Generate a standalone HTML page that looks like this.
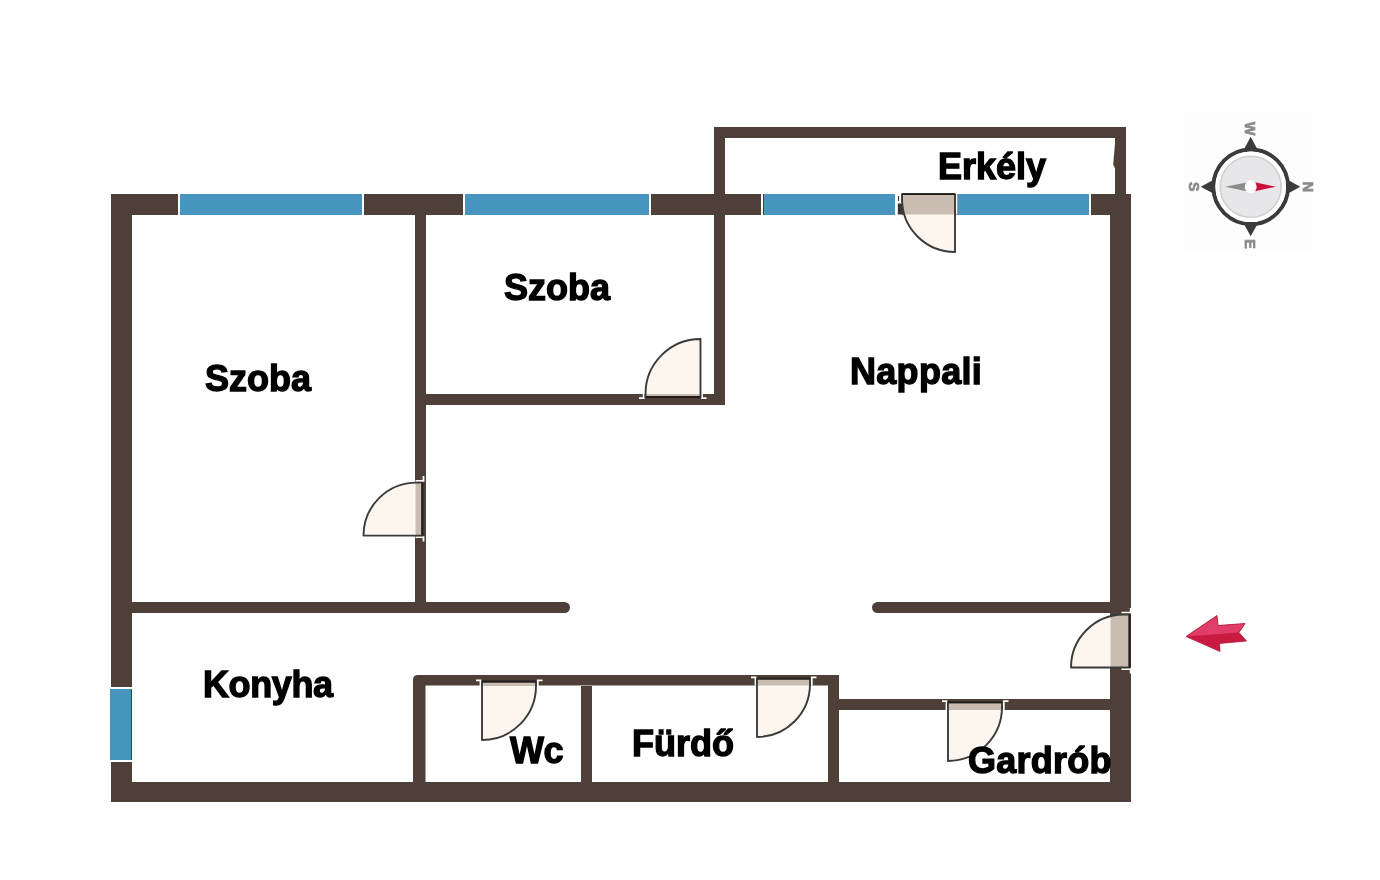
<!DOCTYPE html>
<html><head><meta charset="utf-8">
<style>
html,body{margin:0;padding:0;background:#fff;width:1380px;height:880px;overflow:hidden}
svg{position:absolute;left:0;top:0;will-change:transform}
.t{position:absolute;font:bold 36px "Liberation Sans",sans-serif;color:#000;-webkit-text-stroke:1.3px #000;white-space:nowrap;line-height:normal;will-change:transform}
</style></head><body>
<svg width="1380" height="880" viewBox="0 0 1380 880">
<rect x="1184" y="112" width="128" height="138" fill="#fdfdfd"/>
<g fill="#4e4038">
<rect x="111" y="194" width="1020" height="21"/>
<rect x="111" y="194" width="21" height="608"/>
<rect x="111" y="782" width="1020" height="20"/>
<rect x="1110" y="194" width="21" height="608"/>
<rect x="714" y="127" width="412" height="11"/>
<rect x="1115" y="127" width="11" height="67"/>
<path d="M1115.5 138 L1113.2 164.5 L1115.5 169.5 Z"/>
<rect x="714" y="127" width="11" height="278"/>
<rect x="415" y="394" width="310" height="11"/>
<rect x="415" y="215" width="11" height="398"/>
<path d="M132 602 H564.5 A5.5 5.5 0 0 1 564.5 613 H132 Z"/>
<path d="M1110 602 H877.5 A5.5 5.5 0 0 0 877.5 613 H1110 Z"/>
<path d="M413 782 V680 Q413 675 418 675 H839 V685.6 H425.5 V782 Z"/>
<rect x="581" y="686" width="11" height="96"/>
<rect x="828" y="675" width="11" height="107"/>
<rect x="839" y="699" width="271" height="11"/>
</g>
<g fill="#4794bf">
<rect x="180" y="194" width="182" height="21"/>
<rect x="465" y="194" width="184" height="21"/>
<rect x="764" y="194" width="131" height="21"/>
<rect x="957.5" y="194" width="131.5" height="21"/>
<rect x="110" y="689" width="21" height="71"/>
</g>
<g fill="#fff">
<rect x="178" y="193" width="2" height="23"/>
<rect x="362" y="193" width="2" height="23"/>
<rect x="463" y="193" width="2" height="23"/>
<rect x="649" y="193" width="2" height="23"/>
<rect x="761" y="193" width="2" height="23"/>
<rect x="1089" y="193" width="2" height="23"/>
<rect x="109" y="687" width="23" height="2"/>
<rect x="109" y="760" width="23" height="2"/>
</g>
<rect x="895" y="194" width="7" height="21" fill="#fff"/><path d="M897.8 203.5 H902.5 V214.5 H897.8 Z" fill="#3a3430"/><path d="M898.5 196 V201" stroke="#3a3430" stroke-width="1.2"/>
<g transform="matrix(1 0 0 1 482 686)">
<clipPath id="dc0"><path d="M0 -4.5 H54 V0 A54 54 0 0 1 0 54 Z"/></clipPath>
<path d="M0 -4.5 H54 V0 A54 54 0 0 1 0 54 Z" fill="#fdf6ef"/>
<rect x="-1" y="-4.5" width="56" height="4.5" fill="#c9bdb2" clip-path="url(#dc0)"/>
<path d="M-6 -5.7 H-1.5 V0" stroke="#fff" stroke-width="1.8" fill="none"/>
<path d="M60.5 -5.7 H55.8 V0" stroke="#fff" stroke-width="1.8" fill="none"/>
<path d="M0 -4.5 H54 V0 A54 54 0 0 1 0 54 Z" fill="none" stroke="#3b3b3b" stroke-width="1.9" stroke-linejoin="round"/>
<path d="M0 -4.5 H54" stroke="#221d1a" stroke-width="1.8"/>
</g>
<g transform="matrix(1 0 0 1 757 684)">
<clipPath id="dc1"><path d="M0 -5.4 H53 V0 A53 53 0 0 1 0 53 Z"/></clipPath>
<path d="M0 -5.4 H53 V0 A53 53 0 0 1 0 53 Z" fill="#fdf6ef"/>
<rect x="-1" y="-5.4" width="55" height="6.9" fill="#c9bdb2" clip-path="url(#dc1)"/>
<path d="M-6 -6.6000000000000005 H-1.5 V1.5" stroke="#fff" stroke-width="1.8" fill="none"/>
<path d="M59.5 -6.6000000000000005 H54.8 V1.5" stroke="#fff" stroke-width="1.8" fill="none"/>
<path d="M0 -5.4 H53 V0 A53 53 0 0 1 0 53 Z" fill="none" stroke="#3b3b3b" stroke-width="1.9" stroke-linejoin="round"/>
<path d="M0 -5.4 H53" stroke="#221d1a" stroke-width="1.8"/>
</g>
<g transform="matrix(1 0 0 1 948 707)">
<clipPath id="dc2"><path d="M0 -4.7 H54 V0 A54 54 0 0 1 0 54 Z"/></clipPath>
<path d="M0 -4.7 H54 V0 A54 54 0 0 1 0 54 Z" fill="#fdf6ef"/>
<rect x="-1" y="-4.7" width="56" height="7.7" fill="#c9bdb2" clip-path="url(#dc2)"/>
<path d="M-6 -5.9 H-1.5 V3" stroke="#fff" stroke-width="1.8" fill="none"/>
<path d="M60.5 -5.9 H55.8 V3" stroke="#fff" stroke-width="1.8" fill="none"/>
<path d="M0 -4.7 H54 V0 A54 54 0 0 1 0 54 Z" fill="none" stroke="#3b3b3b" stroke-width="1.9" stroke-linejoin="round"/>
<path d="M0 -4.7 H54" stroke="#221d1a" stroke-width="1.8"/>
</g>
<g transform="matrix(-1 0 0 -1 700.5 394)">
<clipPath id="dc3"><path d="M0 -3 H55 V0 A55 55 0 0 1 0 55 Z"/></clipPath>
<path d="M0 -3 H55 V0 A55 55 0 0 1 0 55 Z" fill="#fdf6ef"/>
<rect x="-1" y="-3" width="57" height="3" fill="#c9bdb2" clip-path="url(#dc3)"/>
<path d="M-6 -4.2 H-1.5 V0" stroke="#fff" stroke-width="1.8" fill="none"/>
<path d="M61.5 -4.2 H56.8 V0" stroke="#fff" stroke-width="1.8" fill="none"/>
<path d="M0 -3 H55 V0 A55 55 0 0 1 0 55 Z" fill="none" stroke="#3b3b3b" stroke-width="1.9" stroke-linejoin="round"/>
<path d="M0 -3 H55" stroke="#221d1a" stroke-width="1.8"/>
</g>
<g transform="matrix(0 -1 -1 0 416.5 535.6)">
<clipPath id="dc4"><path d="M0 -5.8 H53 V0 A53 53 0 0 1 0 53 Z"/></clipPath>
<path d="M0 -5.8 H53 V0 A53 53 0 0 1 0 53 Z" fill="#fdf6ef"/>
<rect x="-1" y="-5.8" width="55" height="6.8" fill="#c9bdb2" clip-path="url(#dc4)"/>
<path d="M-6 -7.0 H-1.5 V1" stroke="#fff" stroke-width="1.8" fill="none"/>
<path d="M59.5 -7.0 H54.8 V1" stroke="#fff" stroke-width="1.8" fill="none"/>
<path d="M0 -5.8 H53 V0 A53 53 0 0 1 0 53 Z" fill="none" stroke="#3b3b3b" stroke-width="1.9" stroke-linejoin="round"/>
<path d="M0 -5.8 H53" stroke="#221d1a" stroke-width="1.8"/>
</g>
<g transform="matrix(0 -1 -1 0 1124 667.5)">
<clipPath id="dc5"><path d="M0 -5.5 H53 V0 A53 53 0 0 1 0 53 Z"/></clipPath>
<path d="M0 -5.5 H53 V0 A53 53 0 0 1 0 53 Z" fill="#fdf6ef"/>
<rect x="-1" y="-5.5" width="55" height="19.0" fill="#c9bdb2" clip-path="url(#dc5)"/>
<path d="M-6 -6.7 H-1.5 V2.5" stroke="#fff" stroke-width="1.8" fill="none"/>
<path d="M59.5 -6.7 H54.8 V2.5" stroke="#fff" stroke-width="1.8" fill="none"/>
<path d="M0 -5.5 H53 V0 A53 53 0 0 1 0 53 Z" fill="none" stroke="#3b3b3b" stroke-width="1.9" stroke-linejoin="round"/>
<path d="M0 -5.5 H53" stroke="#221d1a" stroke-width="1.8"/>
</g>
<g transform="matrix(-1 0 0 1 955 199)">
<clipPath id="dc6"><path d="M0 -4.9 H53 V0 A53 53 0 0 1 0 53 Z"/></clipPath>
<path d="M0 -4.9 H53 V0 A53 53 0 0 1 0 53 Z" fill="#fdf6ef"/>
<rect x="-1" y="-4.9" width="55" height="20.4" fill="#c9bdb2" clip-path="url(#dc6)"/>
<path d="M-6 -6.1000000000000005 H-1.5 V15.5" stroke="#fff" stroke-width="1.8" fill="none"/>
<path d="M63.5 -6.1000000000000005 H58.8 V15.5" stroke="#fff" stroke-width="1.8" fill="none"/>
<path d="M0 -4.9 H53 V0 A53 53 0 0 1 0 53 Z" fill="none" stroke="#3b3b3b" stroke-width="1.9" stroke-linejoin="round"/>
<path d="M0 -4.9 H53" stroke="#221d1a" stroke-width="1.8"/>
</g>

<g transform="translate(1250.7 186.8)">
<g fill="#3b3b3b">
<path d="M-7.5 -36 L0 -50 L7.5 -36 Z"/>
<path d="M-7.5 36 L0 49.5 L7.5 36 Z"/>
<path d="M-36 -7.5 L-50 0 L-36 7.5 Z"/>
<path d="M36 -7.5 L49.5 0 L36 7.5 Z"/>
</g>
<circle r="37.3" fill="none" stroke="#3b3b3b" stroke-width="4"/>
<circle r="35.3" fill="#fff"/>
<circle r="30.5" fill="#e7e7e9" stroke="#d0d0d0" stroke-width="1.6"/>
<path d="M-25.5 0 L-3 -4.6 L-3 4.6 Z" fill="#8c8c8c"/>
<path d="M25 0 L3 -4.8 L3 4.8 Z" fill="#cc0e3d"/>
<ellipse rx="6" ry="6.5" fill="#fbfbfb"/>
<g fill="#8a8a8a" stroke="#8a8a8a" stroke-width="0.7" font-family="Liberation Sans" font-weight="bold" font-size="14.2" text-anchor="middle">
<text transform="translate(-0.3 -58) rotate(90)" y="5.2">W</text>
<text transform="translate(58 0.1) rotate(90)" y="5.2">N</text>
<text transform="translate(-0.2 57.2) rotate(90)" y="5.2">E</text>
<text transform="translate(-56.7 0) rotate(90)" y="5.2">S</text>
</g>
</g>


<path d="M1186 636.5 L1217 615.5 L1218 625.5 L1245 623.5 L1239 632.5 L1246.5 641 L1219.5 643.5 L1220 651.5 Z" fill="#c91a42"/>
<path d="M1186 636.5 L1217 615.5 L1218 625.5 L1245 623.5 L1239 632.5 Z" fill="#e03d68"/>
<path d="M1186 636.5 L1217 615.5 L1218 625.5 L1245 623.5 L1239 632.5 L1246.5 641 L1219.5 643.5 L1220 651.5 Z" fill="none" stroke="#b5193c" stroke-width="0.8" stroke-linejoin="miter"/>

</svg>
<div class="t" style="left:205px;top:358px;letter-spacing:0px">Szoba</div>
<div class="t" style="left:504px;top:267px;letter-spacing:0px">Szoba</div>
<div class="t" style="left:850px;top:351px;letter-spacing:0.3px">Nappali</div>
<div class="t" style="left:203px;top:664px;letter-spacing:-0.4px">Konyha</div>
<div class="t" style="left:938px;top:146px;letter-spacing:0px">Erkély</div>
<div class="t" style="left:632px;top:723px;letter-spacing:0px">Fürdő</div>
<div class="t" style="left:968px;top:739.5px;letter-spacing:0.25px">Gardrób</div>
<div class="t" style="left:510px;top:730px;letter-spacing:-0.5px">Wc</div>
</body></html>
